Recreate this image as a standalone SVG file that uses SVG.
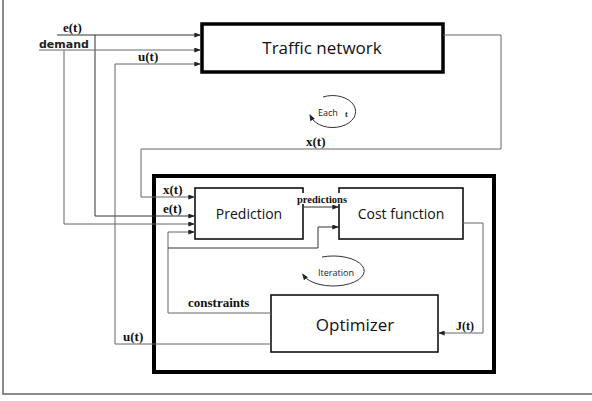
<svg xmlns="http://www.w3.org/2000/svg" width="592" height="401" viewBox="0 0 592 401">
<defs>
<marker id="ah" viewBox="0 0 8 6" refX="8" refY="3" markerWidth="7" markerHeight="5" markerUnits="userSpaceOnUse" orient="auto">
<path d="M0,0 L8,3 L0,6 Z" fill="#222"/>
</marker>
<marker id="ah2" viewBox="0 0 8 6" refX="4" refY="3" markerWidth="7" markerHeight="5" markerUnits="userSpaceOnUse" orient="auto">
<path d="M0,0 L8,3 L0,6 Z" fill="#222"/>
</marker>
</defs>
<style>
.box{fill:#fff;stroke:#111;stroke-width:1.6}
.thick{fill:none;stroke:#000;stroke-width:4}
.ln{fill:none;stroke:#333;stroke-width:1}
.lg{fill:none;stroke:#666;stroke-width:1}
.arr{marker-end:url(#ah)}
.big{font-family:"Open Sans","Liberation Sans",sans-serif;fill:#111;text-anchor:middle}
.lab{font-family:"Liberation Serif",serif;font-weight:bold;fill:#111}
.sm{font-family:"Open Sans","Liberation Sans",sans-serif;font-size:9px;fill:#222}
</style>
<rect width="592" height="401" fill="#fff"/>
<path d="M3,0 V394 H592" fill="none" stroke="#666" stroke-width="1.5"/>

<g id="controller">
<rect x="154" y="176" width="340" height="196" class="thick"/>
</g>

<g id="traffic-network">
<rect x="202" y="24" width="241" height="48" fill="#fff" stroke="#000" stroke-width="3.5"/>
<text x="322" y="54" class="big" font-size="17">Traffic network</text>
</g>

<g id="prediction">
<rect x="195" y="188" width="108" height="51" class="box"/>
<text x="249" y="219" class="big" font-size="14">Prediction</text>
</g>

<g id="cost-function">
<rect x="339" y="188" width="124" height="51" class="box"/>
<text x="401" y="219" class="big" font-size="14">Cost function</text>
</g>

<g id="optimizer">
<rect x="271" y="295" width="167" height="57" class="box"/>
<text x="355" y="331" class="big" font-size="17">Optimizer</text>
</g>

<g id="connectors">
<path class="ln arr" d="M57,35 H201"/>
<path class="ln arr" d="M95,35 V216 H195"/>
<path class="lg arr" d="M39,50 H201"/>
<path class="lg arr" d="M64,50 V224 H195"/>
<path class="lg arr" d="M271,344 H115 V64 H201"/>
<path class="lg arr" d="M443,35 H501 V149 H141 V197 H195"/>
<path class="ln arr" d="M303,207 H339"/>
<path class="lg arr" d="M271,313 H168 V232 H195"/>
<path class="ln arr" d="M168,248 H318 V227 H339"/>
<path class="lg arr" d="M463,223 H483 V333 H438"/>
<path class="ln" d="M323,97 A23,16 0 1 1 311,117" marker-end="url(#ah2)"/>
<path class="ln" d="M322,257 A31,15 0 1 1 304,276" marker-end="url(#ah2)"/>
</g>

<rect x="297" y="193" width="50" height="11" fill="#fff"/>
<text x="322" y="203" class="lab" style="font-size:10.5px" text-anchor="middle">predictions</text>
<text x="63" y="32" class="lab" style="font-size:13px">e(t)</text>
<text x="39" y="48" font-family="DejaVu Sans,sans-serif" font-weight="bold" font-size="11" fill="#222">demand</text>
<text x="138" y="61" class="lab" style="font-size:13px">u(t)</text>
<text x="306" y="146" class="lab" style="font-size:13px">x(t)</text>
<text x="163" y="194" class="lab" style="font-size:13px">x(t)</text>
<text x="163" y="213" class="lab" style="font-size:13px">e(t)</text>
<text x="123" y="341" class="lab" style="font-size:13px">u(t)</text>
<text x="188" y="307" class="lab" style="font-size:13px">constraints</text>
<text x="456" y="330" class="lab" style="font-size:12px">J(t)</text>
<text x="318" y="116" class="sm">Each</text>
<text x="345" y="117" class="lab" style="font-size:8px">t</text>
<text x="336" y="276" class="sm" text-anchor="middle">Iteration</text>
</svg>
